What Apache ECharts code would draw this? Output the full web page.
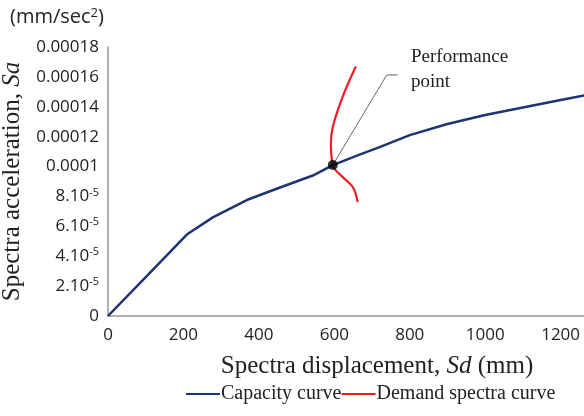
<!DOCTYPE html>
<html>
<head>
<meta charset="utf-8">
<script src="https://cdn.jsdelivr.net/npm/echarts@6/dist/echarts.min.js"></script>
<style>
    html, body { margin: 0; padding: 0; background: #fff; }
    #chart { width: 584px; height: 416px; }
</style>
</head>
<body>
<div id="chart"></div>
<script>
// capacity curve (Sd in mm, Sa in mm/sec2)
let capacitySd = [0, 100, 209, 278, 368, 456, 543, 596, 667, 720, 800, 900, 1000, 1100, 1200, 1270];
let capacitySa = [0, 2.6e-5, 5.45e-5, 6.6e-5, 7.76e-5, 8.6e-5, 9.4e-5, 10.1e-5, 10.8e-5, 11.3e-5, 12.1e-5, 12.85e-5, 13.45e-5, 13.95e-5, 14.45e-5, 14.8e-5];
// demand spectra curve
let demandSd = [657, 622, 596, 591, 596, 622, 649, 662];
let demandSa = [16.7e-5, 14.66e-5, 12.65e-5, 11.58e-5, 10.1e-5, 9.3e-5, 8.63e-5, 7.63e-5];
// performance point and its leader line
let perfPoint = [596, 10.1e-5];
let leaderSd = [596, 739, 768];
let leaderSa = [10.1e-5, 16.13e-5, 16.13e-5];
// y tick labels
let yTickLabels = {
    "0": "0",
    "2e-5": "{n|2.10}{s|-5}",
    "4e-5": "{n|4.10}{s|-5}",
    "6e-5": "{n|6.10}{s|-5}",
    "8e-5": "{n|8.10}{s|-5}",
    "10e-5": "0.0001",
    "12e-5": "0.00012",
    "14e-5": "0.00014",
    "16e-5": "0.00016",
    "18e-5": "0.00018"
};

let zip = (xs, ys) => xs.map((x, i) => [x, ys[i]]);
let labelFont = "Open Sans";
let serif = "Liberation Serif";

let yLabel = v => {
    let k = Math.round(v / 1e-5);
    if (k === 0) return "0";
    return yTickLabels[k + "e-5"] || "";
};

let option = {
    animation: false,
    title: {
        text: "{a|(mm/sec}{s|2}{a|)}",
        left: 5,
        top: 2,
        textStyle: {
            rich: {
                a: { fontFamily: labelFont, fontSize: 20, fontWeight: "normal", color: "#222" },
                s: { fontFamily: labelFont, fontSize: 13, fontWeight: "normal", color: "#222", verticalAlign: "top", padding: [0, 0, 7, 0] }
            }
        }
    },
    grid: {
        left: 108,
        right: 0,
        top: 47,
        bottom: 100,
        outerBoundsMode: "none",
        containLabel: false
    },
    legend: {
        bottom: 7,
        left: 181,
        itemWidth: 34,
        itemHeight: 2,
        itemGap: 0,
        icon: "rect",
        textStyle: { fontFamily: serif, fontSize: 20, color: "#222", padding: [0, 0, 0, -4] },
        data: ["Capacity curve", "Demand spectra curve"]
    },
    xAxis: {
        type: "value",
        min: 0,
        max: 1262,
        interval: 200,
        name: "{a|Spectra displacement, }{i|Sd}{a| (mm)}",
        nameLocation: "middle",
        nameGap: 38,
        nameTextStyle: {
            padding: [0, 0, 0, 62],
            rich: {
                a: { fontFamily: serif, fontSize: 25, color: "#222" },
                i: { fontFamily: serif, fontSize: 25, color: "#222", fontStyle: "italic" }
            }
        },
        axisLine: { show: true, lineStyle: { color: "#999", width: 1.5 } },
        axisTick: { show: false },
        splitLine: { show: false },
        axisLabel: {
            margin: 11,
            fontFamily: labelFont,
            fontSize: 17,
            color: "#222",
            formatter: v => (v % 200 === 0 ? String(v) : "")
        }
    },
    yAxis: {
        type: "value",
        min: 0,
        max: 0.00018,
        interval: 0.00002,
        name: "{a|Spectra acceleration, }{i|Sa}",
        nameLocation: "middle",
        nameGap: 83,
        nameTextStyle: {
            rich: {
                a: { fontFamily: serif, fontSize: 25, color: "#222" },
                i: { fontFamily: serif, fontSize: 25, color: "#222", fontStyle: "italic" }
            }
        },
        axisLine: { show: true, lineStyle: { color: "#999", width: 1.5 } },
        axisTick: { show: false },
        splitLine: { show: false },
        axisLabel: {
            margin: 9,
            fontFamily: labelFont,
            fontSize: 17,
            color: "#222",
            formatter: yLabel,
            rich: {
                n: { fontFamily: labelFont, fontSize: 17, color: "#222" },
                s: { fontFamily: labelFont, fontSize: 11, color: "#222", verticalAlign: "top", padding: [0, 0, 8, 0] }
            }
        }
    },
    graphic: [
        {
            type: "text",
            left: 411,
            top: 45,
            style: {
                text: "Performance\npoint",
                fill: "#222",
                font: "19px 'Liberation Serif'",
                align: "center",
                lineHeight: 25
            }
        }
    ],
    series: [
        {
            name: "Leader",
            type: "line",
            data: zip(leaderSd, leaderSa),
            symbol: "none",
            silent: true,
            lineStyle: { color: "#666", width: 1 },
            z: 1
        },
        {
            name: "Capacity curve",
            type: "line",
            data: zip(capacitySd, capacitySa),
            symbol: "none",
            color: "#1c3472",
            lineStyle: { color: "#1c3472", width: 2.5, join: "round" },
            z: 3
        },
        {
            name: "Demand spectra curve",
            type: "line",
            data: zip(demandSd, demandSa),
            smooth: 0.4,
            symbol: "none",
            color: "#ee1c24",
            lineStyle: { color: "#ee1c24", width: 2.2 },
            z: 2
        },
        {
            name: "Performance point",
            type: "scatter",
            data: [perfPoint],
            symbolSize: 10,
            itemStyle: { color: "#000" },
            z: 4
        }
    ]
};

let myChart = echarts.init(document.getElementById("chart"));
myChart.setOption(option);
</script>
</body>
</html>
